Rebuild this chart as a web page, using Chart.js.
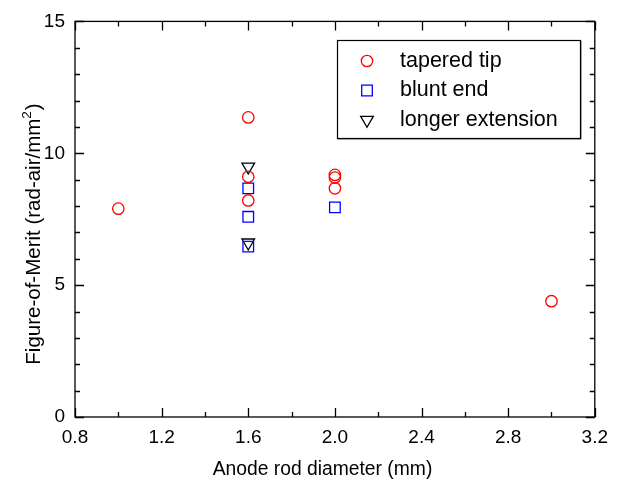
<!DOCTYPE html>
<html><head><meta charset="utf-8">
<script src="https://cdn.jsdelivr.net/npm/chart.js@4/dist/chart.umd.min.js"></script>
<style>html,body{margin:0;padding:0;background:#fff}#wrap{width:617px;height:481px}</style>
</head><body><div id="wrap"><canvas id="c" width="617" height="481"></canvas></div>
<script>
const seriesNames = ['tapered tip', 'blunt end', 'longer extension'];
const taperedX = [1.0, 1.6, 1.6, 1.6, 2.0, 2.0, 2.0, 3.0];
const taperedY = [7.9, 11.36, 9.11, 8.21, 9.18, 9.08, 8.67, 4.39];
const bluntX = [1.6, 1.6, 1.6, 2.0];
const bluntY = [8.67, 7.59, 6.46, 7.95];
const longerX = [1.6, 1.6];
const longerY = [9.49, 6.61];
const xTicks = [0.8, 1.2, 1.6, 2.0, 2.4, 2.8, 3.2];
const yTicks = [0, 5, 10, 15];
const xTitle = 'Anode rod diameter (mm)';
const yTitleParts = ['Figure-of-Merit (rad-air/mm', '2', ')'];

const FONT = "'Liberation Sans', Arial, sans-serif";
const toPts = (xs, ys) => xs.map((x, i) => ({x: x, y: ys[i]}));

const styles = [
  {color: '#ff0000', shape: 'circle', r: 5.7, rot: 0},
  {color: '#0000ff', shape: 'rect', r: 7.5, rot: 0},
  {color: '#000000', shape: 'triangle', r: 7.3, rot: 180}
];
const dataSets = [toPts(taperedX, taperedY), toPts(bluntX, bluntY), toPts(longerX, longerY)];

function drawMarker(ctx, st, x, y) {
  ctx.save();
  ctx.strokeStyle = st.color; ctx.lineWidth = 1.3;
  ctx.beginPath();
  if (st.shape === 'circle') { ctx.arc(x, y, st.r, 0, Math.PI * 2); }
  else if (st.shape === 'rect') { const s = st.r * Math.SQRT1_2; ctx.rect(x - s, y - s, 2 * s, 2 * s); }
  else { const r = st.r; ctx.moveTo(x - r * 0.866, y - r * 0.5); ctx.lineTo(x + r * 0.866, y - r * 0.5); ctx.lineTo(x, y + r); ctx.closePath(); }
  ctx.stroke();
  ctx.restore();
}

const framePlugin = {
  id: 'frame',
  afterDatasetsDraw(chart) {
    const ctx = chart.ctx, a = chart.chartArea, xs = chart.scales.x, ys = chart.scales.y;
    ctx.save();
    ctx.strokeStyle = '#000'; ctx.lineWidth = 1.3;
    ctx.strokeRect(a.left, a.top, a.right - a.left, a.bottom - a.top);
    ctx.beginPath();
    for (let v = 0.8; v <= 3.2001; v += 0.2) {
      const major = Math.abs(Math.round(v / 0.4) * 0.4 - v) < 1e-6;
      const L = major ? 9 : 5;
      const px = Math.round(xs.getPixelForValue(v)) + 0.5;
      ctx.moveTo(px, a.bottom); ctx.lineTo(px, a.bottom - L);
      ctx.moveTo(px, a.top); ctx.lineTo(px, a.top + L);
    }
    for (let v = 0; v <= 15; v += 1) {
      const L = (v % 5 === 0) ? 9 : 5;
      const py = Math.round(ys.getPixelForValue(v)) + 0.5;
      ctx.moveTo(a.left, py); ctx.lineTo(a.left + L, py);
      ctx.moveTo(a.right, py); ctx.lineTo(a.right - L, py);
    }
    ctx.stroke();
    // axis titles
    ctx.fillStyle = '#000';
    ctx.font = '19.3px ' + FONT; ctx.textAlign = 'center'; ctx.textBaseline = 'alphabetic';
    ctx.fillText(xTitle, 322.5, 474.5);
    const fs = 20.5, ss = 13.5;
    ctx.save();
    ctx.translate(40, 234); ctx.rotate(-Math.PI / 2);
    ctx.textAlign = 'left';
    ctx.font = fs + 'px ' + FONT; const w0 = ctx.measureText(yTitleParts[0]).width, w2 = ctx.measureText(yTitleParts[2]).width;
    ctx.font = ss + 'px ' + FONT; const w1 = ctx.measureText(yTitleParts[1]).width;
    let x0 = -(w0 + w1 + w2 + 1) / 2;
    ctx.font = fs + 'px ' + FONT; ctx.fillText(yTitleParts[0], x0, 0); x0 += w0;
    ctx.font = ss + 'px ' + FONT; ctx.fillText(yTitleParts[1], x0, -9); x0 += w1 + 1;
    ctx.font = fs + 'px ' + FONT; ctx.fillText(yTitleParts[2], x0, 0);
    ctx.restore();
    // legend
    const bx = 337, by = 40, bw = 243, bh = 98;
    ctx.fillStyle = '#fff'; ctx.fillRect(bx, by, bw, bh);
    ctx.fillStyle = '#666'; ctx.fillRect(bx + 1, by + bh, bw, 1.5); ctx.fillRect(bx + bw, by + 1, 1.5, bh);
    ctx.strokeStyle = '#000'; ctx.lineWidth = 1.2; ctx.strokeRect(bx + 0.5, by + 0.5, bw, bh);
    ctx.font = '21.5px ' + FONT; ctx.fillStyle = '#000'; ctx.textBaseline = 'middle'; ctx.textAlign = 'left';
    seriesNames.forEach((n, i) => {
      const yy = 61 + i * 29.5;
      drawMarker(ctx, styles[i], 367, yy);
      ctx.fillText(n, 400, yy);
    });
    ctx.restore();
  }
};

new Chart(document.getElementById('c'), {
  type: 'scatter',
  data: {
    datasets: dataSets.map((d, i) => ({
      label: seriesNames[i], data: d,
      pointStyle: styles[i].shape, pointRadius: styles[i].r, pointRotation: styles[i].rot,
      pointBorderColor: styles[i].color, pointBackgroundColor: 'rgba(0,0,0,0)',
      pointBorderWidth: 1.3, pointHoverRadius: styles[i].r, showLine: false
    }))
  },
  options: {
    responsive: false, animation: false, devicePixelRatio: 1,
    layout: {padding: {left: 0, right: 19, top: 19, bottom: 0}},
    plugins: {legend: {display: false}, tooltip: {enabled: false}},
    scales: {
      x: {
        type: 'linear', min: 0.8, max: 3.2,
        afterBuildTicks: s => { s.ticks = xTicks.map(v => ({value: v})); },
        afterFit: s => { s.height = 64; },
        grid: {display: false, drawTicks: false}, border: {display: false},
        ticks: {padding: 9, color: '#000', font: {family: FONT, size: 19}, callback: v => Number(v).toFixed(1), maxRotation: 0, autoSkip: false},
        title: {display: false}
      },
      y: {
        type: 'linear', min: 0, max: 15,
        afterBuildTicks: s => { s.ticks = yTicks.map(v => ({value: v})); },
        afterFit: s => { s.width = 75; },
        grid: {display: false, drawTicks: false}, border: {display: false},
        ticks: {padding: 10, color: '#000', font: {family: FONT, size: 19}},
        title: {display: false}
      }
    }
  },
  plugins: [framePlugin]
});
</script></body></html>
